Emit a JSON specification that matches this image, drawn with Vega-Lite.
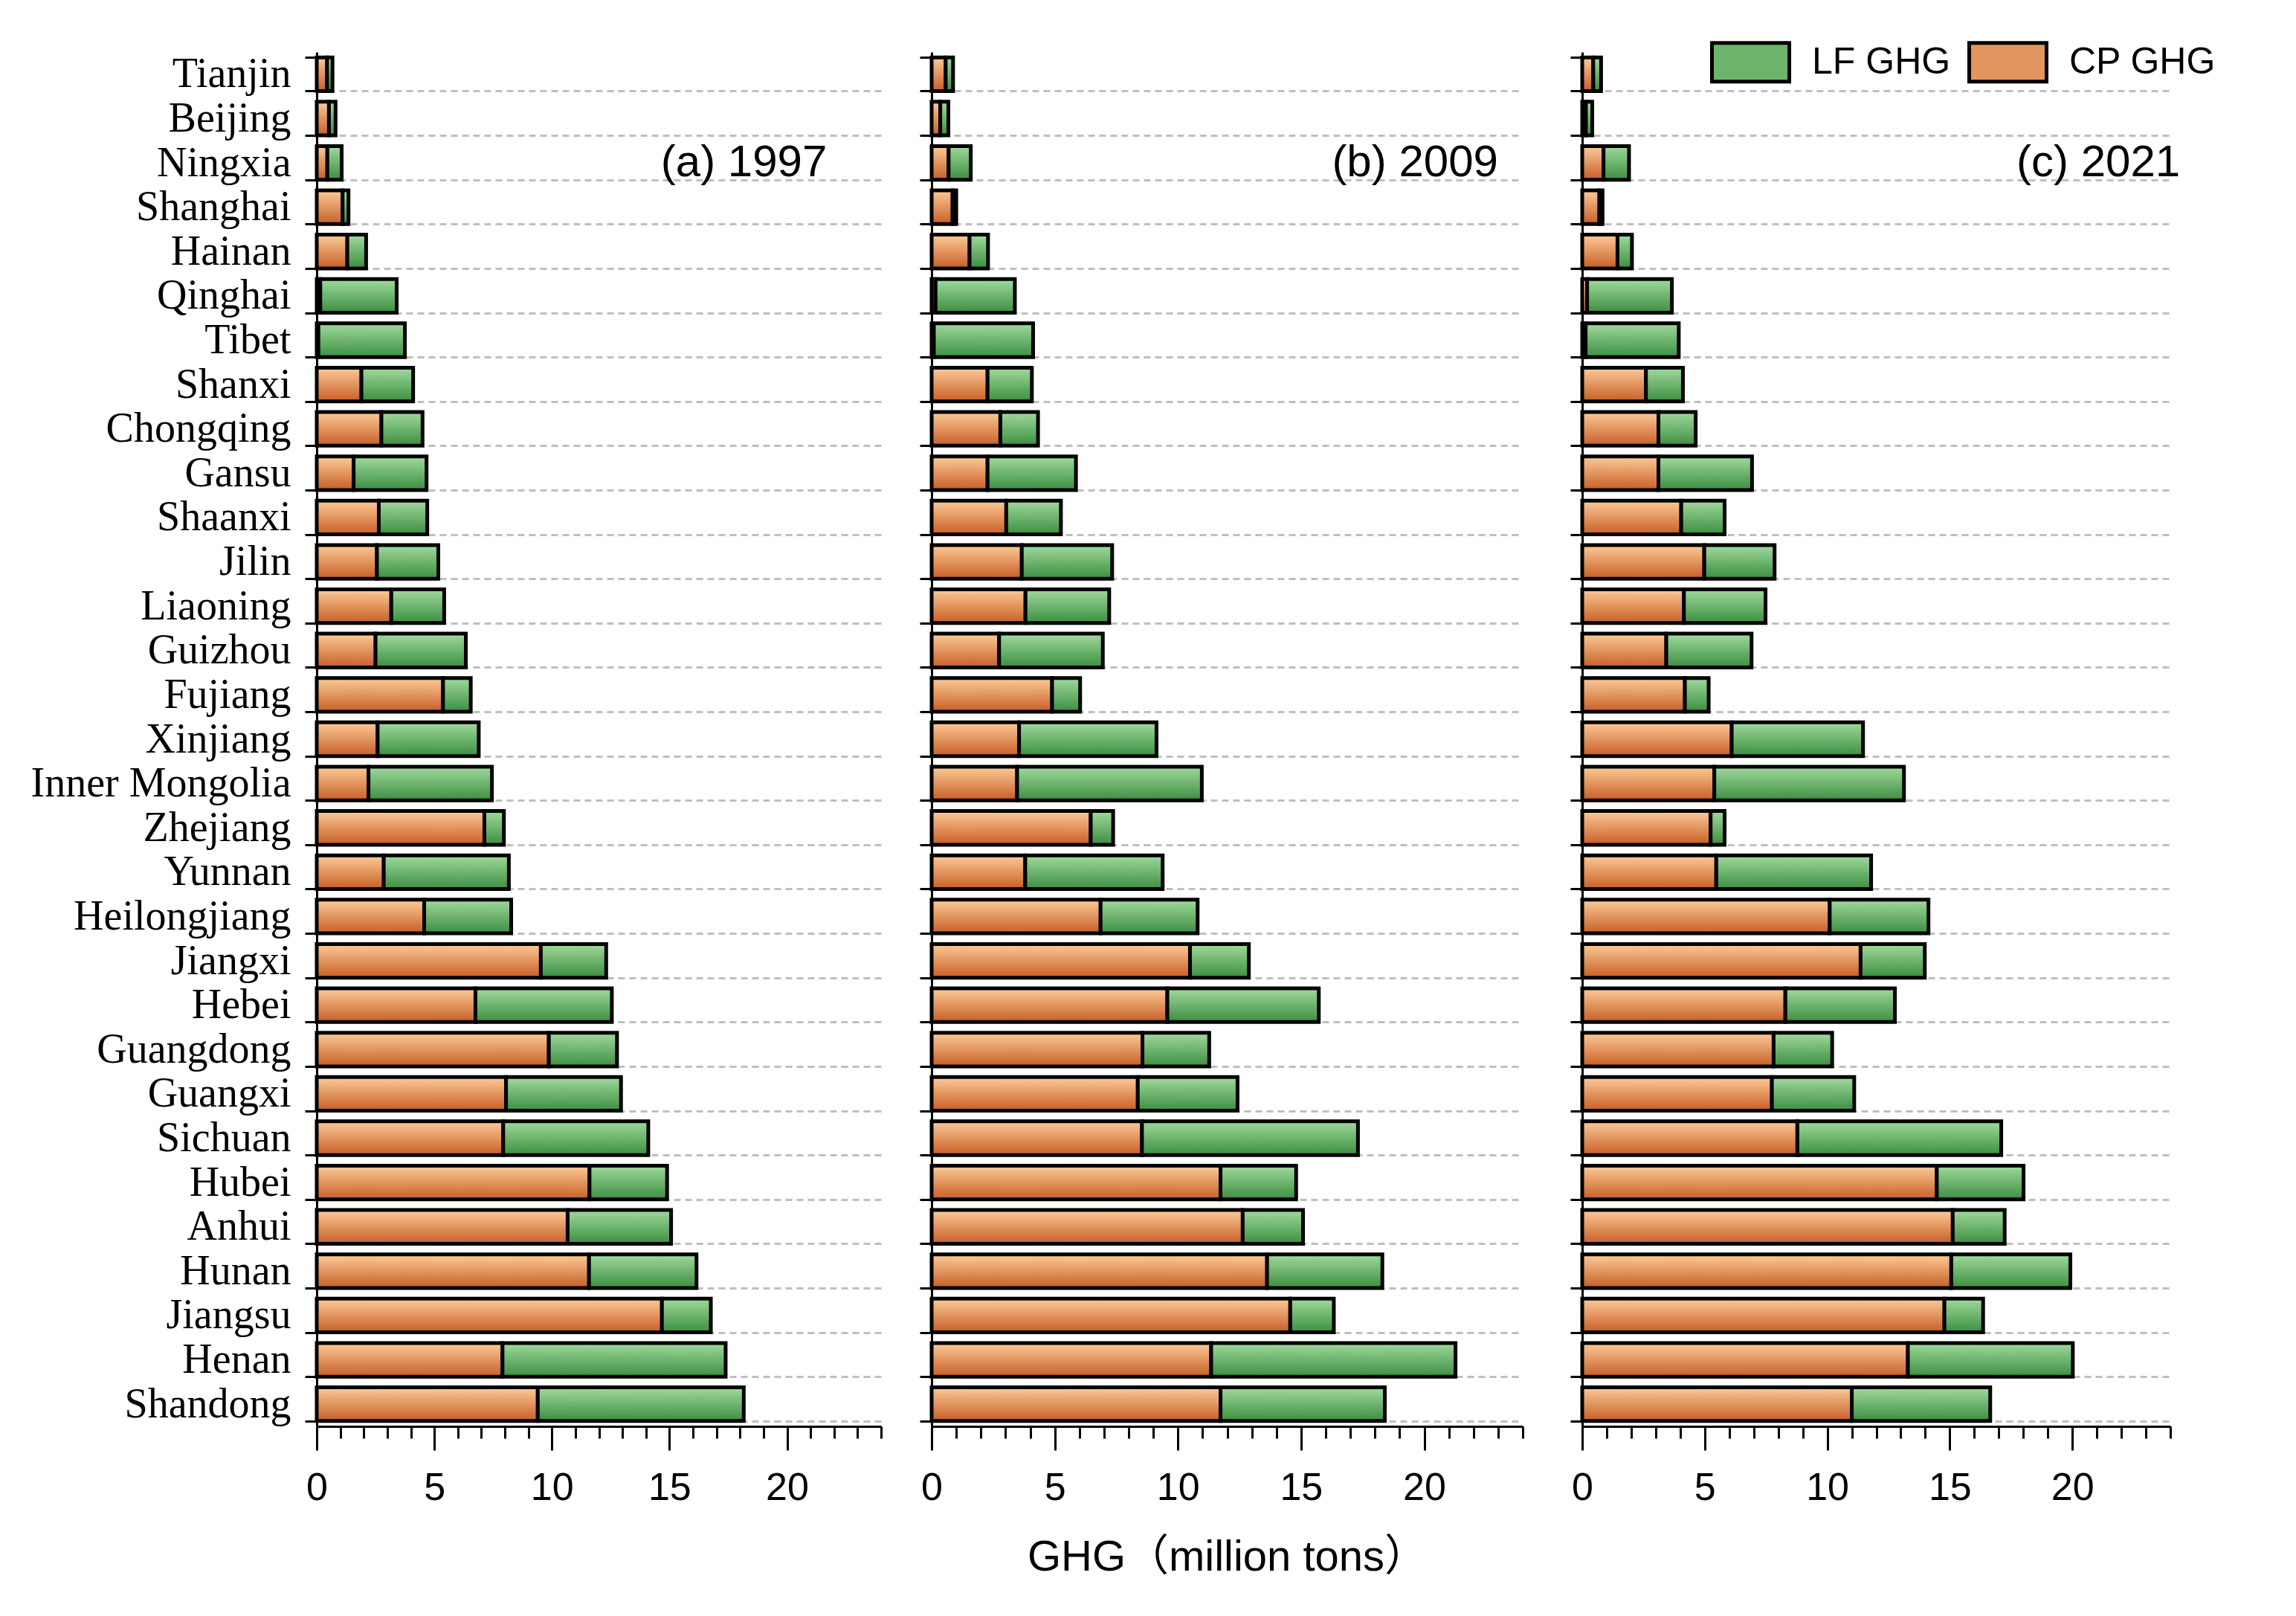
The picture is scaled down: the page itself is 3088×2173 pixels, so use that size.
{
  "$schema": "https://vega.github.io/schema/vega-lite/v6.json",
  "background": "white",
  "padding": {"left": 41, "top": 29, "right": 10, "bottom": 10},
  "config": {
    "font": "Liberation Sans",
    "view": {"stroke": null},
    "axis": {"labelColor": "black", "titleColor": "black"}
  },
  "data": {
    "values": [
      {"province": "Tianjin", "year": 1997, "CP": 0.44, "LF": 0.23},
      {"province": "Beijing", "year": 1997, "CP": 0.52, "LF": 0.28},
      {"province": "Ningxia", "year": 1997, "CP": 0.45, "LF": 0.61},
      {"province": "Shanghai", "year": 1997, "CP": 1.1, "LF": 0.25},
      {"province": "Hainan", "year": 1997, "CP": 1.3, "LF": 0.8},
      {"province": "Qinghai", "year": 1997, "CP": 0.15, "LF": 3.25},
      {"province": "Tibet", "year": 1997, "CP": 0.07, "LF": 3.68},
      {"province": "Shanxi", "year": 1997, "CP": 1.9, "LF": 2.2},
      {"province": "Chongqing", "year": 1997, "CP": 2.75, "LF": 1.75},
      {"province": "Gansu", "year": 1997, "CP": 1.57, "LF": 3.1},
      {"province": "Shaanxi", "year": 1997, "CP": 2.64, "LF": 2.06},
      {"province": "Jilin", "year": 1997, "CP": 2.56, "LF": 2.61},
      {"province": "Liaoning", "year": 1997, "CP": 3.17, "LF": 2.25},
      {"province": "Guizhou", "year": 1997, "CP": 2.5, "LF": 3.84},
      {"province": "Fujiang", "year": 1997, "CP": 5.37, "LF": 1.18},
      {"province": "Xinjiang", "year": 1997, "CP": 2.59, "LF": 4.3},
      {"province": "Inner Mongolia", "year": 1997, "CP": 2.2, "LF": 5.25},
      {"province": "Zhejiang", "year": 1997, "CP": 7.13, "LF": 0.83},
      {"province": "Yunnan", "year": 1997, "CP": 2.85, "LF": 5.32},
      {"province": "Heilongjiang", "year": 1997, "CP": 4.57, "LF": 3.7},
      {"province": "Jiangxi", "year": 1997, "CP": 9.53, "LF": 2.78},
      {"province": "Hebei", "year": 1997, "CP": 6.75, "LF": 5.8},
      {"province": "Guangdong", "year": 1997, "CP": 9.87, "LF": 2.9},
      {"province": "Guangxi", "year": 1997, "CP": 8.05, "LF": 4.89},
      {"province": "Sichuan", "year": 1997, "CP": 7.93, "LF": 6.17},
      {"province": "Hubei", "year": 1997, "CP": 11.6, "LF": 3.3},
      {"province": "Anhui", "year": 1997, "CP": 10.67, "LF": 4.4},
      {"province": "Hunan", "year": 1997, "CP": 11.58, "LF": 4.57},
      {"province": "Jiangsu", "year": 1997, "CP": 14.68, "LF": 2.08},
      {"province": "Henan", "year": 1997, "CP": 7.9, "LF": 9.49},
      {"province": "Shandong", "year": 1997, "CP": 9.4, "LF": 8.76},

      {"province": "Tianjin", "year": 2009, "CP": 0.57, "LF": 0.3},
      {"province": "Beijing", "year": 2009, "CP": 0.35, "LF": 0.33},
      {"province": "Ningxia", "year": 2009, "CP": 0.69, "LF": 0.9},
      {"province": "Shanghai", "year": 2009, "CP": 0.85, "LF": 0.15},
      {"province": "Hainan", "year": 2009, "CP": 1.54, "LF": 0.75},
      {"province": "Qinghai", "year": 2009, "CP": 0.16, "LF": 3.22},
      {"province": "Tibet", "year": 2009, "CP": 0.09, "LF": 4.03},
      {"province": "Shanxi", "year": 2009, "CP": 2.27, "LF": 1.8},
      {"province": "Chongqing", "year": 2009, "CP": 2.79, "LF": 1.53},
      {"province": "Gansu", "year": 2009, "CP": 2.27, "LF": 3.59},
      {"province": "Shaanxi", "year": 2009, "CP": 3.03, "LF": 2.22},
      {"province": "Jilin", "year": 2009, "CP": 3.66, "LF": 3.67},
      {"province": "Liaoning", "year": 2009, "CP": 3.81, "LF": 3.4},
      {"province": "Guizhou", "year": 2009, "CP": 2.74, "LF": 4.21},
      {"province": "Fujiang", "year": 2009, "CP": 4.89, "LF": 1.14},
      {"province": "Xinjiang", "year": 2009, "CP": 3.55, "LF": 5.58},
      {"province": "Inner Mongolia", "year": 2009, "CP": 3.47, "LF": 7.5},
      {"province": "Zhejiang", "year": 2009, "CP": 6.46, "LF": 0.91},
      {"province": "Yunnan", "year": 2009, "CP": 3.8, "LF": 5.58},
      {"province": "Heilongjiang", "year": 2009, "CP": 6.86, "LF": 3.94},
      {"province": "Jiangxi", "year": 2009, "CP": 10.49, "LF": 2.39},
      {"province": "Hebei", "year": 2009, "CP": 9.57, "LF": 6.15},
      {"province": "Guangdong", "year": 2009, "CP": 8.56, "LF": 2.71},
      {"province": "Guangxi", "year": 2009, "CP": 8.37, "LF": 4.05},
      {"province": "Sichuan", "year": 2009, "CP": 8.54, "LF": 8.77},
      {"province": "Hubei", "year": 2009, "CP": 11.73, "LF": 3.07},
      {"province": "Anhui", "year": 2009, "CP": 12.63, "LF": 2.45},
      {"province": "Hunan", "year": 2009, "CP": 13.62, "LF": 4.68},
      {"province": "Jiangsu", "year": 2009, "CP": 14.56, "LF": 1.77},
      {"province": "Henan", "year": 2009, "CP": 11.35, "LF": 9.92},
      {"province": "Shandong", "year": 2009, "CP": 11.73, "LF": 6.67},

      {"province": "Tianjin", "year": 2021, "CP": 0.45, "LF": 0.32},
      {"province": "Beijing", "year": 2021, "CP": 0.15, "LF": 0.26},
      {"province": "Ningxia", "year": 2021, "CP": 0.87, "LF": 1.04},
      {"province": "Shanghai", "year": 2021, "CP": 0.7, "LF": 0.13},
      {"province": "Hainan", "year": 2021, "CP": 1.44, "LF": 0.59},
      {"province": "Qinghai", "year": 2021, "CP": 0.2, "LF": 3.46},
      {"province": "Tibet", "year": 2021, "CP": 0.14, "LF": 3.8},
      {"province": "Shanxi", "year": 2021, "CP": 2.6, "LF": 1.51},
      {"province": "Chongqing", "year": 2021, "CP": 3.11, "LF": 1.52},
      {"province": "Gansu", "year": 2021, "CP": 3.11, "LF": 3.82},
      {"province": "Shaanxi", "year": 2021, "CP": 4.04, "LF": 1.77},
      {"province": "Jilin", "year": 2021, "CP": 4.98, "LF": 2.87},
      {"province": "Liaoning", "year": 2021, "CP": 4.15, "LF": 3.33},
      {"province": "Guizhou", "year": 2021, "CP": 3.43, "LF": 3.48},
      {"province": "Fujiang", "year": 2021, "CP": 4.19, "LF": 0.97},
      {"province": "Xinjiang", "year": 2021, "CP": 6.1, "LF": 5.36},
      {"province": "Inner Mongolia", "year": 2021, "CP": 5.39, "LF": 7.74},
      {"province": "Zhejiang", "year": 2021, "CP": 5.24, "LF": 0.57},
      {"province": "Yunnan", "year": 2021, "CP": 5.47, "LF": 6.32},
      {"province": "Heilongjiang", "year": 2021, "CP": 10.1, "LF": 4.03},
      {"province": "Jiangxi", "year": 2021, "CP": 11.36, "LF": 2.62},
      {"province": "Hebei", "year": 2021, "CP": 8.29, "LF": 4.47},
      {"province": "Guangdong", "year": 2021, "CP": 7.81, "LF": 2.39},
      {"province": "Guangxi", "year": 2021, "CP": 7.74, "LF": 3.36},
      {"province": "Sichuan", "year": 2021, "CP": 8.78, "LF": 8.32},
      {"province": "Hubei", "year": 2021, "CP": 14.47, "LF": 3.54},
      {"province": "Anhui", "year": 2021, "CP": 15.12, "LF": 2.12},
      {"province": "Hunan", "year": 2021, "CP": 15.06, "LF": 4.86},
      {"province": "Jiangsu", "year": 2021, "CP": 14.78, "LF": 1.58},
      {"province": "Henan", "year": 2021, "CP": 13.29, "LF": 6.73},
      {"province": "Shandong", "year": 2021, "CP": 11.0, "LF": 5.65}
    ]
  },
  "spacing": 48,
  "resolve": {"scale": {"fill": "independent"}, "legend": {"fill": "independent"}},
  "hconcat": [
    {
      "width": 759,
      "height": 1848,
      "transform": [
        {"filter": "datum.year == 1997"},
        {"fold": ["CP", "LF"], "as": ["type", "value"]},
        {"stack": "value", "groupby": ["province"], "sort": [{"field": "type", "order": "ascending"}], "as": ["v0", "v1"]}
      ],
      "resolve": {"axis": {"x": "independent"}},
      "layer": [
        {
          "transform": [{"filter": "datum.type === 'CP'"}],
          "mark": {"type": "bar", "stroke": "black", "strokeWidth": 5,
            "color": {"gradient": "linear", "x1": 0, "y1": 0, "x2": 0, "y2": 1, "stops": [{"offset": 0, "color": "#FDCB98"}, {"offset": 1, "color": "#C75E26"}]}},
          "encoding": {
            "y": {
              "field": "province", "type": "nominal",
              "scale": {"domain": ["Tianjin","Beijing","Ningxia","Shanghai","Hainan","Qinghai","Tibet","Shanxi","Chongqing","Gansu","Shaanxi","Jilin","Liaoning","Guizhou","Fujiang","Xinjiang","Inner Mongolia","Zhejiang","Yunnan","Heilongjiang","Jiangxi","Hebei","Guangdong","Guangxi","Sichuan","Hubei","Anhui","Hunan","Jiangsu","Henan","Shandong"], "paddingInner": 0.24, "paddingOuter": 0.12},
              "axis": {
                "title": null, "tickBand": "extent", "grid": true,
                "gridDash": [9, 6], "gridColor": "#BFBFBF", "gridWidth": 3,
                "gridOpacity": {"condition": {"test": "datum.extra", "value": 0}, "value": 1},
                "domainColor": "black", "domainWidth": 3,
                "tickColor": "black", "tickWidth": 3, "tickSize": 16,
                "labelFont": "Liberation Serif", "labelFontSize": 56, "labelColor": "black", "labelPadding": 19,
                "labelLimit": 0
              }
            },
            "x": {
              "field": "v0", "type": "quantitative",
              "scale": {"domain": [0, 24], "nice": false},
              "axis": {
                "values": [0, 5, 10, 15, 20], "tickSize": 32, "tickWidth": 3, "tickColor": "black",
                "domainColor": "black", "domainWidth": 3, "labelFontSize": 52, "labelPadding": 25,
                "labelFlush": false, "grid": false, "title": null
              }
            },
            "x2": {"field": "v1"}
          }
        },
        {
          "transform": [{"filter": "datum.type === 'LF'"}],
          "mark": {"type": "bar", "stroke": "black", "strokeWidth": 5,
            "color": {"gradient": "linear", "x1": 0, "y1": 0, "x2": 0, "y2": 1, "stops": [{"offset": 0, "color": "#A0DA9D"}, {"offset": 1, "color": "#3C8E40"}]}},
          "encoding": {
            "y": {"field": "province", "type": "nominal",
              "scale": {"domain": ["Tianjin","Beijing","Ningxia","Shanghai","Hainan","Qinghai","Tibet","Shanxi","Chongqing","Gansu","Shaanxi","Jilin","Liaoning","Guizhou","Fujiang","Xinjiang","Inner Mongolia","Zhejiang","Yunnan","Heilongjiang","Jiangxi","Hebei","Guangdong","Guangxi","Sichuan","Hubei","Anhui","Hunan","Jiangsu","Henan","Shandong"], "paddingInner": 0.24, "paddingOuter": 0.12}},
            "x": {"field": "v0", "type": "quantitative", "scale": {"domain": [0, 24], "nice": false}, "axis": null},
            "x2": {"field": "v1"}
          }
        },
        {
          "data": {"values": [{}]},
          "mark": {"type": "rule", "opacity": 0},
          "encoding": {
            "x": {
              "datum": 0, "type": "quantitative",
              "scale": {"domain": [0, 24], "nice": false},
              "axis": {"orient": "bottom", "values": [0,1,2,3,4,5,6,7,8,9,10,11,12,13,14,15,16,17,18,19,20,21,22,23,24], "labels": false, "tickSize": 16, "tickWidth": 3, "tickColor": "black", "domain": false, "grid": false, "title": null}
            }
          }
        },
        {
          "data": {"values": [{"label": "(a) 1997"}]},
          "mark": {"type": "text", "align": "right", "baseline": "middle", "fontSize": 60, "font": "Liberation Sans", "color": "black"},
          "encoding": {
            "x": {"datum": 21.7, "type": "quantitative", "axis": null},
            "y": {"datum": "Ningxia", "type": "nominal"},
            "text": {"field": "label"}
          }
        }
      ]
    },
    {
      "spacing": 60,
      "resolve": {"scale": {"fill": "independent"}, "legend": {"fill": "independent"}},
      "hconcat": [
        {
          "width": 795,
          "height": 1848,
          "transform": [
            {"filter": "datum.year == 2009"},
            {"fold": ["CP", "LF"], "as": ["type", "value"]},
            {"stack": "value", "groupby": ["province"], "sort": [{"field": "type", "order": "ascending"}], "as": ["v0", "v1"]}
          ],
          "resolve": {"axis": {"x": "independent"}},
          "layer": [
            {
              "transform": [{"filter": "datum.type === 'CP'"}],
              "mark": {"type": "bar", "stroke": "black", "strokeWidth": 5,
                "color": {"gradient": "linear", "x1": 0, "y1": 0, "x2": 0, "y2": 1, "stops": [{"offset": 0, "color": "#FDCB98"}, {"offset": 1, "color": "#C75E26"}]}},
              "encoding": {
                "y": {
                  "field": "province", "type": "nominal",
                  "scale": {"domain": ["Tianjin","Beijing","Ningxia","Shanghai","Hainan","Qinghai","Tibet","Shanxi","Chongqing","Gansu","Shaanxi","Jilin","Liaoning","Guizhou","Fujiang","Xinjiang","Inner Mongolia","Zhejiang","Yunnan","Heilongjiang","Jiangxi","Hebei","Guangdong","Guangxi","Sichuan","Hubei","Anhui","Hunan","Jiangsu","Henan","Shandong"], "paddingInner": 0.24, "paddingOuter": 0.12},
                  "axis": {
                    "title": null, "tickBand": "extent", "grid": true, "labels": false,
                    "gridDash": [9, 6], "gridColor": "#BFBFBF", "gridWidth": 3,
                    "gridOpacity": {"condition": {"test": "datum.extra", "value": 0}, "value": 1},
                    "domainColor": "black", "domainWidth": 3,
                    "tickColor": "black", "tickWidth": 3, "tickSize": 16
                  }
                },
                "x": {
                  "field": "v0", "type": "quantitative",
                  "scale": {"domain": [0, 24], "nice": false},
                  "axis": {
                    "values": [0, 5, 10, 15, 20], "tickSize": 32, "tickWidth": 3, "tickColor": "black",
                    "domainColor": "black", "domainWidth": 3, "labelFontSize": 52, "labelPadding": 25,
                    "labelFlush": false, "grid": false,
                    "title": "GHG（million tons）", "titleFont": "Liberation Sans, Noto Sans CJK SC",
                    "titleFontSize": 58, "titleFontWeight": "normal", "titlePadding": 39
                  }
                },
                "x2": {"field": "v1"}
              }
            },
            {
              "transform": [{"filter": "datum.type === 'LF'"}],
              "mark": {"type": "bar", "stroke": "black", "strokeWidth": 5,
                "color": {"gradient": "linear", "x1": 0, "y1": 0, "x2": 0, "y2": 1, "stops": [{"offset": 0, "color": "#A0DA9D"}, {"offset": 1, "color": "#3C8E40"}]}},
              "encoding": {
                "y": {"field": "province", "type": "nominal",
                  "scale": {"domain": ["Tianjin","Beijing","Ningxia","Shanghai","Hainan","Qinghai","Tibet","Shanxi","Chongqing","Gansu","Shaanxi","Jilin","Liaoning","Guizhou","Fujiang","Xinjiang","Inner Mongolia","Zhejiang","Yunnan","Heilongjiang","Jiangxi","Hebei","Guangdong","Guangxi","Sichuan","Hubei","Anhui","Hunan","Jiangsu","Henan","Shandong"], "paddingInner": 0.24, "paddingOuter": 0.12}},
                "x": {"field": "v0", "type": "quantitative", "scale": {"domain": [0, 24], "nice": false}, "axis": null},
                "x2": {"field": "v1"}
              }
            },
            {
              "data": {"values": [{}]},
              "mark": {"type": "rule", "opacity": 0},
              "encoding": {
                "x": {
                  "datum": 0, "type": "quantitative",
                  "scale": {"domain": [0, 24], "nice": false},
                  "axis": {"orient": "bottom", "values": [0,1,2,3,4,5,6,7,8,9,10,11,12,13,14,15,16,17,18,19,20,21,22,23,24], "labels": false, "tickSize": 16, "tickWidth": 3, "tickColor": "black", "domain": false, "grid": false, "title": null}
                }
              }
            },
            {
              "data": {"values": [{"label": "(b) 2009"}]},
              "mark": {"type": "text", "align": "right", "baseline": "middle", "fontSize": 60, "font": "Liberation Sans", "color": "black"},
              "encoding": {
                "x": {"datum": 23.0, "type": "quantitative", "axis": null},
                "y": {"datum": "Ningxia", "type": "nominal"},
                "text": {"field": "label"}
              }
            }
          ]
        },
        {
          "width": 791,
          "height": 1848,
          "transform": [
            {"filter": "datum.year == 2021"},
            {"fold": ["CP", "LF"], "as": ["type", "value"]},
            {"stack": "value", "groupby": ["province"], "sort": [{"field": "type", "order": "ascending"}], "as": ["v0", "v1"]}
          ],
          "resolve": {"axis": {"x": "independent"}},
          "layer": [
            {
              "transform": [{"filter": "datum.type === 'CP'"}],
              "mark": {"type": "bar", "stroke": "black", "strokeWidth": 5,
                "color": {"gradient": "linear", "x1": 0, "y1": 0, "x2": 0, "y2": 1, "stops": [{"offset": 0, "color": "#FDCB98"}, {"offset": 1, "color": "#C75E26"}]}},
              "encoding": {
                "y": {
                  "field": "province", "type": "nominal",
                  "scale": {"domain": ["Tianjin","Beijing","Ningxia","Shanghai","Hainan","Qinghai","Tibet","Shanxi","Chongqing","Gansu","Shaanxi","Jilin","Liaoning","Guizhou","Fujiang","Xinjiang","Inner Mongolia","Zhejiang","Yunnan","Heilongjiang","Jiangxi","Hebei","Guangdong","Guangxi","Sichuan","Hubei","Anhui","Hunan","Jiangsu","Henan","Shandong"], "paddingInner": 0.24, "paddingOuter": 0.12},
                  "axis": {
                    "title": null, "tickBand": "extent", "grid": true, "labels": false,
                    "gridDash": [9, 6], "gridColor": "#BFBFBF", "gridWidth": 3,
                    "gridOpacity": {"condition": {"test": "datum.extra", "value": 0}, "value": 1},
                    "domainColor": "black", "domainWidth": 3,
                    "tickColor": "black", "tickWidth": 3, "tickSize": 16
                  }
                },
                "x": {
                  "field": "v0", "type": "quantitative",
                  "scale": {"domain": [0, 24], "nice": false},
                  "axis": {
                    "values": [0, 5, 10, 15, 20], "tickSize": 32, "tickWidth": 3, "tickColor": "black",
                    "domainColor": "black", "domainWidth": 3, "labelFontSize": 52, "labelPadding": 25,
                    "labelFlush": false, "grid": false, "title": null
                  }
                },
                "x2": {"field": "v1"}
              }
            },
            {
              "transform": [{"filter": "datum.type === 'LF'"}],
              "mark": {"type": "bar", "stroke": "black", "strokeWidth": 5,
                "color": {"gradient": "linear", "x1": 0, "y1": 0, "x2": 0, "y2": 1, "stops": [{"offset": 0, "color": "#A0DA9D"}, {"offset": 1, "color": "#3C8E40"}]}},
              "encoding": {
                "y": {"field": "province", "type": "nominal",
                  "scale": {"domain": ["Tianjin","Beijing","Ningxia","Shanghai","Hainan","Qinghai","Tibet","Shanxi","Chongqing","Gansu","Shaanxi","Jilin","Liaoning","Guizhou","Fujiang","Xinjiang","Inner Mongolia","Zhejiang","Yunnan","Heilongjiang","Jiangxi","Hebei","Guangdong","Guangxi","Sichuan","Hubei","Anhui","Hunan","Jiangsu","Henan","Shandong"], "paddingInner": 0.24, "paddingOuter": 0.12}},
                "x": {"field": "v0", "type": "quantitative", "scale": {"domain": [0, 24], "nice": false}, "axis": null},
                "x2": {"field": "v1"}
              }
            },
            {
              "data": {"values": [{}]},
              "mark": {"type": "rule", "opacity": 0},
              "encoding": {
                "x": {
                  "datum": 0, "type": "quantitative",
                  "scale": {"domain": [0, 24], "nice": false},
                  "axis": {"orient": "bottom", "values": [0,1,2,3,4,5,6,7,8,9,10,11,12,13,14,15,16,17,18,19,20,21,22,23,24], "labels": false, "tickSize": 16, "tickWidth": 3, "tickColor": "black", "domain": false, "grid": false, "title": null}
                }
              }
            },
            {
              "data": {"values": [{"label": "(c) 2021"}]},
              "mark": {"type": "text", "align": "right", "baseline": "middle", "fontSize": 60, "font": "Liberation Sans", "color": "black"},
              "encoding": {
                "x": {"datum": 24.4, "type": "quantitative", "axis": null},
                "y": {"datum": "Ningxia", "type": "nominal"},
                "text": {"field": "label"}
              }
            },
            {
              "data": {"values": [{"type": "LF"}, {"type": "CP"}]},
              "mark": {"type": "square", "opacity": 0},
              "encoding": {
                "fill": {
                  "field": "type", "type": "nominal",
                  "scale": {"domain": ["LF", "CP"], "range": ["#6EB46C", "#E2955F"]},
                  "legend": {
                    "orient": "none", "legendX": 172, "legendY": -41, "direction": "horizontal",
                    "title": null, "padding": 0,
                    "symbolType": "M-1,-0.5H1V0.5H-1Z", "symbolSize": 10816,
                    "symbolStrokeColor": "black", "symbolStrokeWidth": 4, "symbolOpacity": 1,
                    "labelFont": "Liberation Sans", "labelFontSize": 50, "labelColor": "black",
                    "labelOffset": 28, "columnPadding": 14, "labelLimit": 0,
                    "labelExpr": "datum.label + ' GHG'",
                    "encode": {
                      "symbols": {
                        "update": {
                          "fill": [
                            {"test": "datum.value === 'LF'", "value": {"gradient": "linear", "x1": 0, "y1": 0, "x2": 0, "y2": 1, "stops": [{"offset": 0, "color": "#A0DA9D"}, {"offset": 1, "color": "#3C8E40"}]}},
                            {"value": {"gradient": "linear", "x1": 0, "y1": 0, "x2": 0, "y2": 1, "stops": [{"offset": 0, "color": "#FDCB98"}, {"offset": 1, "color": "#C75E26"}]}}
                          ],
                          "opacity": {"value": 1},
                          "fillOpacity": {"value": 1},
                          "stroke": {"value": "black"},
                          "strokeWidth": {"value": 5}
                        }
                      }
                    }
                  }
                }
              }
            }
          ]
        }
      ]
    }
  ]
}
